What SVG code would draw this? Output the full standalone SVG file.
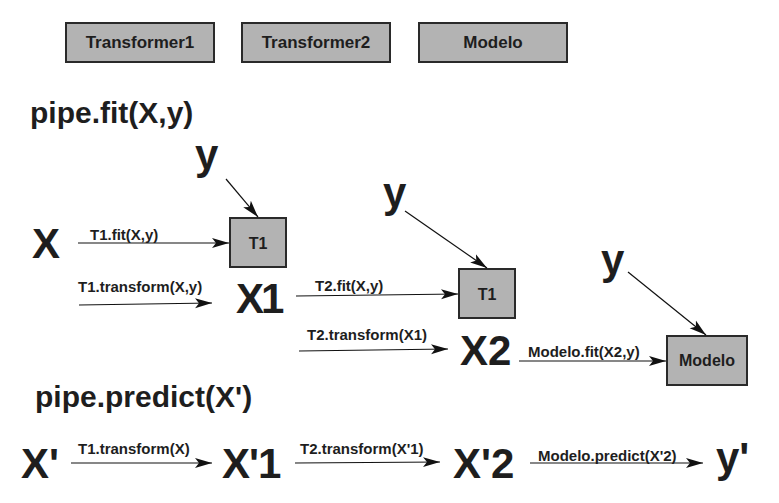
<svg xmlns="http://www.w3.org/2000/svg" width="779" height="503" viewBox="0 0 779 503">
<style>
.box{fill:#b3b3b3;stroke:#2a2a2a;stroke-width:2}
.t{font-family:"Liberation Sans",Arial,sans-serif;font-weight:bold;fill:#1e1e1e}
.lbl{font-size:15px}
.big{font-size:42px}
.hd{font-size:30px}
.bx{font-size:17px;text-anchor:middle}
.c{stroke:#111;stroke-width:1.2;fill:none;marker-end:url(#ah)}
</style>
<defs>
<marker id="ah" markerUnits="userSpaceOnUse" markerWidth="18" markerHeight="12" refX="17" refY="6" orient="auto">
<path d="M0,1 L17,6 L0,11 L4,6 z" fill="#111"/>
</marker>
</defs>
<rect width="779" height="503" fill="#fff"/>
<g id="legend-transformer1"><rect class="box" x="66" y="23" width="148" height="39"/><text class="t bx" x="140" y="48">Transformer1</text></g>
<g id="legend-transformer2"><rect class="box" x="242" y="23" width="148" height="39"/><text class="t bx" x="316" y="48">Transformer2</text></g>
<g id="legend-modelo"><rect class="box" x="419" y="23" width="148" height="39"/><text class="t bx" x="493" y="48">Modelo</text></g>
<text class="t hd" x="30" y="123">pipe.fit(X,y)</text>
<text class="t hd" x="35" y="407">pipe.predict(X')</text>
<g id="fit-y1"><text class="t big" x="195" y="169">y</text></g>
<g id="fit-x"><text class="t big" x="32" y="258">X</text></g>
<g id="fit-t1"><rect class="box" x="230" y="218" width="56" height="49"/><text class="t bx" x="258" y="249" style="font-size:16px">T1</text></g>
<g id="fit-x1"><text class="t big" x="236" y="313" letter-spacing="-3">X1</text></g>
<g id="fit-y2"><text class="t big" x="383" y="207">y</text></g>
<g id="fit-t2"><rect class="box" x="459" y="269" width="56" height="49"/><text class="t bx" x="487" y="300" style="font-size:16px">T1</text></g>
<g id="fit-x2"><text class="t big" x="460" y="365">X2</text></g>
<g id="fit-y3"><text class="t big" x="601" y="274">y</text></g>
<g id="fit-modelo"><rect class="box" x="667" y="336" width="80" height="49"/><text class="t bx" x="707" y="366" style="font-size:16px">Modelo</text></g>
<g id="pred-xp"><text class="t big" x="21" y="478">X'</text></g>
<g id="pred-xp1"><text class="t big" x="222" y="478" letter-spacing="-1">X'1</text></g>
<g id="pred-xp2"><text class="t big" x="453" y="478">X'2</text></g>
<g id="pred-yp"><text class="t big" x="716" y="472">y'</text></g>
<g id="connectors">
<line class="c" x1="226" y1="179" x2="258" y2="217"/>
<line class="c" x1="78" y1="243" x2="229" y2="243"/>
<line class="c" x1="79" y1="305" x2="212" y2="303"/>
<line class="c" x1="296" y1="296" x2="458" y2="294"/>
<line class="c" x1="405" y1="211" x2="487" y2="268"/>
<line class="c" x1="299" y1="351" x2="448" y2="349"/>
<line class="c" x1="519" y1="361" x2="666" y2="361"/>
<line class="c" x1="628" y1="272" x2="706" y2="335"/>
<line class="c" x1="71" y1="463" x2="212" y2="463"/>
<line class="c" x1="295" y1="463" x2="440" y2="462"/>
<line class="c" x1="530" y1="463" x2="703" y2="463"/>
<text class="t lbl" x="90" y="240">T1.fit(X,y)</text>
<text class="t lbl" x="78" y="292">T1.transform(X,y)</text>
<text class="t lbl" x="315" y="291">T2.fit(X,y)</text>
<text class="t lbl" x="307" y="340">T2.transform(X1)</text>
<text class="t lbl" x="528" y="357">Modelo.fit(X2,y)</text>
<text class="t lbl" x="78" y="454">T1.transform(X)</text>
<text class="t lbl" x="300" y="454">T2.transform(X'1)</text>
<text class="t lbl" x="538" y="461">Modelo.predict(X'2)</text>
</g>
</svg>
